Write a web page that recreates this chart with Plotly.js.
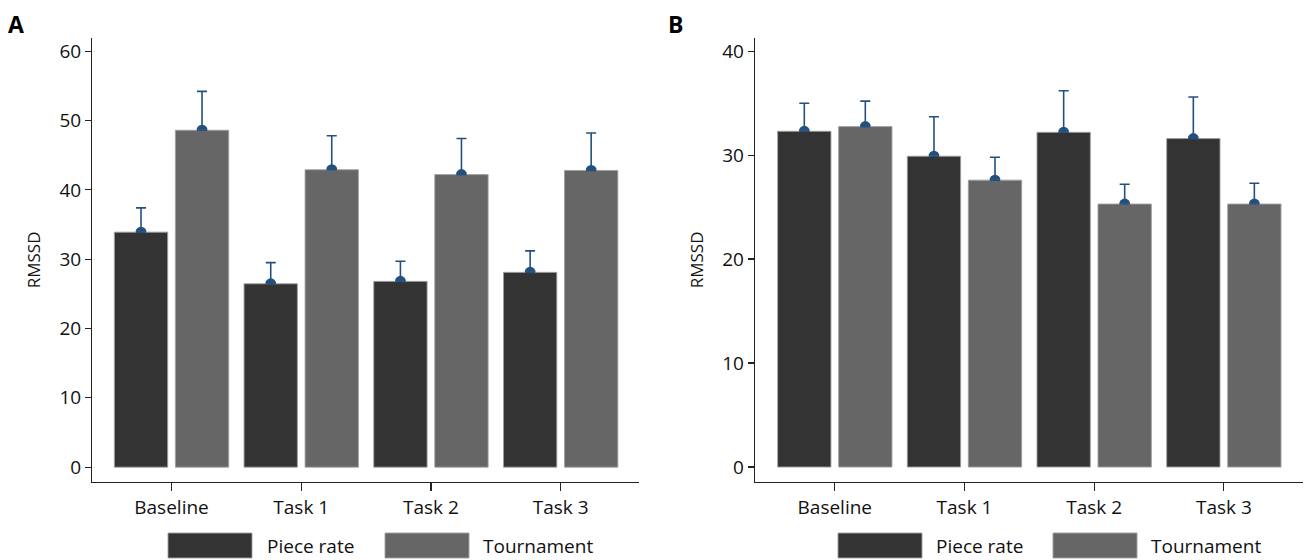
<!DOCTYPE html>
<html>
<head>
<meta charset="utf-8">
<script src="https://cdn.plot.ly/plotly-3.0.1.min.js"></script>
<style>html,body{margin:0;padding:0;background:#fff;}#chart{width:1307px;height:560px;}</style>
</head>
<body>
<div id="chart"></div>
<script>
// ---- data ----
const categories = ['Baseline', 'Task 1', 'Task 2', 'Task 3'];
const seriesNames = ['Piece rate', 'Tournament'];
const panelLabels = ['A', 'B'];
const yTitle = 'RMSSD';

// Panel A means and upper error lengths
const pieceRateA = [33.9, 26.45, 26.8, 28.1];
const pieceRateErrA = [3.5, 3.05, 2.9, 3.1];
const tournamentA = [48.6, 42.9, 42.2, 42.8];
const tournamentErrA = [5.6, 4.9, 5.2, 5.4];

// Panel B means and upper error lengths
const pieceRateB = [32.3, 29.9, 32.2, 31.6];
const pieceRateErrB = [2.7, 3.8, 4.0, 4.0];
const tournamentB = [32.75, 27.6, 25.3, 25.3];
const tournamentErrB = [2.45, 2.2, 1.9, 2.0];

// ---- styles ----
const barColors = ['#333333', '#666666'];
const errColor = '#23507e';
const axisColor = '#222222';
const fontFamily = '"Open Sans", "Noto Sans", sans-serif';
const zeros = categories.map(() => 0);

function barTrace(name, y, err, color, xa, ya, grp) {
  return {
    type: 'bar', name: name, x: categories, y: y, xaxis: xa, yaxis: ya,
    offsetgroup: grp, alignmentgroup: 'g',
    marker: {color: color, line: {color: 'rgba(160,160,160,0.9)', width: 1}},
    error_y: {type: 'data', symmetric: false, array: err, arrayminus: zeros,
              color: errColor, thickness: 1.6, width: 5},
    hoverinfo: 'x+y'
  };
}
function dotTrace(name, y, xa, ya, grp) {
  return {
    type: 'scatter', mode: 'markers', name: name, x: categories, y: y,
    xaxis: xa, yaxis: ya, offsetgroup: grp, alignmentgroup: 'g',
    marker: {color: errColor, size: 11}, hoverinfo: 'skip', showlegend: false
  };
}

const data = [
  dotTrace(seriesNames[0], pieceRateA, 'x', 'y', '1'),
  dotTrace(seriesNames[1], tournamentA, 'x', 'y', '2'),
  dotTrace(seriesNames[0], pieceRateB, 'x2', 'y2', '1'),
  dotTrace(seriesNames[1], tournamentB, 'x2', 'y2', '2'),
  barTrace(seriesNames[0], pieceRateA, pieceRateErrA, barColors[0], 'x', 'y3', '1'),
  barTrace(seriesNames[1], tournamentA, tournamentErrA, barColors[1], 'x', 'y3', '2'),
  barTrace(seriesNames[0], pieceRateB, pieceRateErrB, barColors[0], 'x2', 'y4', '1'),
  barTrace(seriesNames[1], tournamentB, tournamentErrB, barColors[1], 'x2', 'y4', '2')
];

const yDomain = [0.1398, 0.9321];
const rangeA = [-2.1, 61.9];
const rangeB = [-1.41, 41.27];

function xAxis(domain, range, anchor) {
  return {
    type: 'category', categoryorder: 'array', categoryarray: categories,
    domain: domain, range: range, anchor: anchor,
    showline: true, linecolor: axisColor, linewidth: 1.3,
    ticks: 'outside', ticklen: 8, tickwidth: 1.3, tickcolor: axisColor,
    tickfont: {family: fontFamily, size: 19, color: '#111'},
    showgrid: false, zeroline: false, fixedrange: true
  };
}
function yAxis(range, anchor) {
  return {
    domain: yDomain, range: range, anchor: anchor,
    tick0: 0, dtick: 10,
    showline: true, linecolor: axisColor, linewidth: 1.3,
    ticks: 'outside', ticklen: 6, tickwidth: 1.3, tickcolor: axisColor,
    tickfont: {family: fontFamily, size: 19, color: '#111'},
    showgrid: false, zeroline: false, fixedrange: true,
    title: {text: yTitle, font: {family: fontFamily, size: 17, color: '#111'}, standoff: 14}
  };
}

// custom legend (large swatches as in the reference)
const legendPanels = [
  {sw: [168, 385], tx: [265, 481]},
  {sw: [838, 1053], tx: [934, 1149]}
];
const W = 1307, H = 560;
const shapes = [];
const annotations = [];
legendPanels.forEach(p => {
  seriesNames.forEach((nm, i) => {
    shapes.push({type: 'rect', xref: 'paper', yref: 'paper',
      x0: p.sw[i] / W, x1: (p.sw[i] + 84) / W, y0: (H - 558) / H, y1: (H - 533) / H,
      fillcolor: barColors[i], line: {color: 'rgba(160,160,160,0.9)', width: 1}});
    annotations.push({xref: 'paper', yref: 'paper', x: p.tx[i] / W, y: (H - 546) / H,
      xanchor: 'left', yanchor: 'middle', showarrow: false, text: nm,
      font: {family: fontFamily, size: 19, color: '#111'}});
  });
});
panelLabels.forEach((lab, i) => {
  annotations.push({xref: 'paper', yref: 'paper', x: (i === 0 ? 6 : 666) / W, y: (H - 24) / H,
    xanchor: 'left', yanchor: 'middle', showarrow: false, text: '<b>' + lab + '</b>',
    font: {family: '"Open Sans", "Liberation Sans", sans-serif', size: 23, color: '#000'}});
});

const layout = {
  width: W, height: H,
  margin: {l: 0, r: 0, t: 0, b: 0, pad: 0},
  paper_bgcolor: '#fff', plot_bgcolor: '#fff',
  showlegend: false,
  barmode: 'group', bargap: 0.059, bargroupgap: 0.126,
  scattermode: 'group', scattergap: 0.059,
  font: {family: fontFamily, color: '#111'},
  xaxis: xAxis([0.0706, 0.4889], [-0.611, 3.604], 'y'),
  yaxis: yAxis(rangeA, 'x'),
  xaxis2: xAxis([0.5777, 0.9969], [-0.615, 3.61], 'y2'),
  yaxis2: yAxis(rangeB, 'x2'),
  yaxis3: {overlaying: 'y', anchor: 'x', range: rangeA, visible: false, fixedrange: true},
  yaxis4: {overlaying: 'y2', anchor: 'x2', range: rangeB, visible: false, fixedrange: true},
  shapes: shapes,
  annotations: annotations
};

Plotly.newPlot('chart', data, layout, {displayModeBar: false, staticPlot: true});
</script>
</body>
</html>
